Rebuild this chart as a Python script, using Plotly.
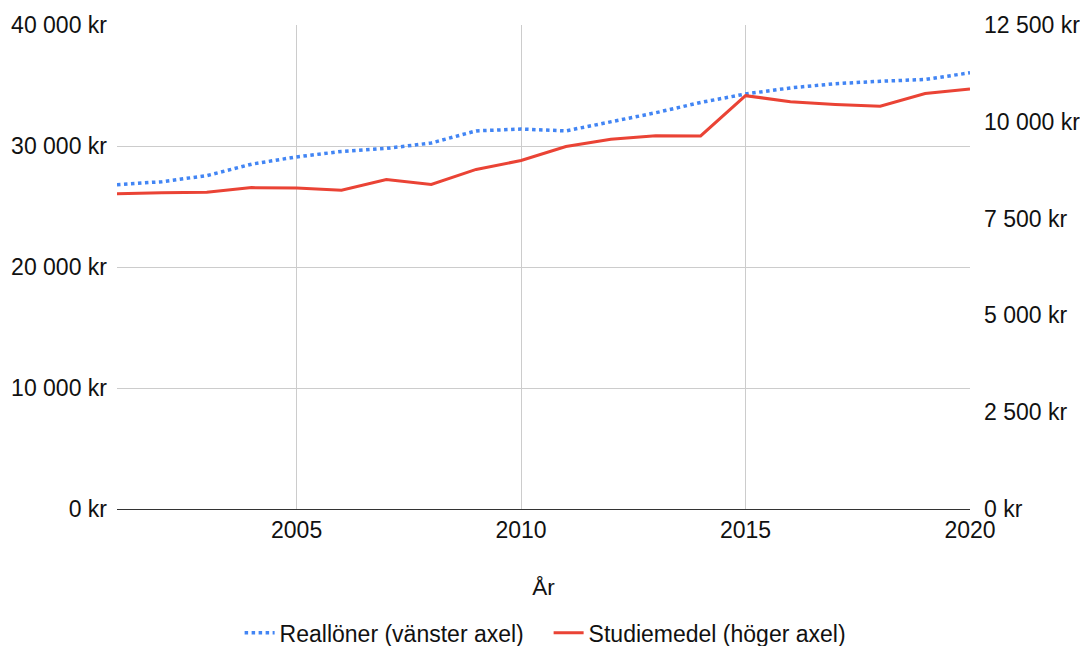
import plotly.graph_objects as go

years = list(range(2001, 2021))
reallon = [26800, 27050, 27550, 28500, 29100, 29550, 29800, 30250, 31250, 31400,
           31250, 32000, 32750, 33600, 34300, 34800, 35150, 35350, 35500, 36050]
studiemedel = [8140, 8170, 8180, 8300, 8290, 8230, 8510, 8380, 8770, 9000,
               9360, 9550, 9640, 9635, 10675, 10520, 10450, 10400, 10730, 10850]

left_ticks = [0, 10000, 20000, 30000, 40000]
right_ticks = [0, 2500, 5000, 7500, 10000, 12500]
x_ticks = [2005, 2010, 2015, 2020]

font_family = "Liberation Sans, Arial, sans-serif"

def kr(v):
    return f"{v:,}".replace(",", " ") + " kr"

fig = go.Figure()
fig.add_trace(go.Scatter(
    x=years, y=reallon, name="Reallöner (vänster axel)", mode="lines",
    line=dict(color="#4285F4", width=3.5, dash="dot"), yaxis="y"))
fig.add_trace(go.Scatter(
    x=years, y=studiemedel, name="Studiemedel (höger axel)", mode="lines",
    line=dict(color="#EA4335", width=3), yaxis="y2"))

fig.update_layout(
    width=1080, height=646,
    margin=dict(l=117, r=110, t=25, b=137, autoexpand=False),
    paper_bgcolor="white", plot_bgcolor="white",
    font=dict(family=font_family, size=23, color="#111"),
    xaxis=dict(range=[2001, 2020], tickvals=x_ticks, ticktext=[str(t) for t in x_ticks],
               showgrid=True, gridcolor="#cccccc", gridwidth=1,
               showline=True, linecolor="#333333", linewidth=1,
               zeroline=False, ticks="", tickfont=dict(size=23), automargin=False,
               title=dict(text="År", font=dict(size=22.5), standoff=37)),
    yaxis=dict(range=[0, 40000], tickvals=left_ticks,
               ticktext=[kr(v) for v in left_ticks], automargin=False,
               showgrid=True, gridcolor="#cccccc", gridwidth=1,
               zeroline=False, ticks="", tickfont=dict(size=23), ticklabelstandoff=9),
    yaxis2=dict(range=[0, 12500], tickvals=right_ticks,
                ticktext=[kr(v) for v in right_ticks], automargin=False,
                overlaying="y", side="right", showgrid=False, zeroline=False,
                ticks="", tickfont=dict(size=23), ticklabelstandoff=13),
    legend=dict(orientation="h", x=0.506, xanchor="center", y=-0.256, yanchor="middle",
                font=dict(size=23), entrywidth=264, itemwidth=30),
    showlegend=True,
)

fig.write_html("out.html", config={"displayModeBar": False},
               post_script="document.body.style.margin='0';")
